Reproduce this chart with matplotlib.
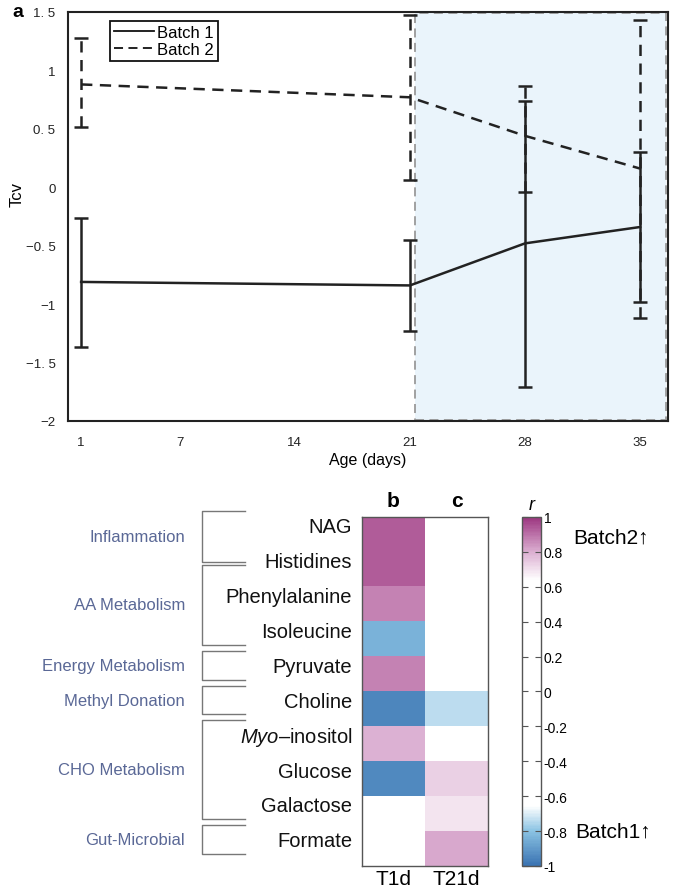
import numpy as np
import matplotlib
matplotlib.use('Agg')
import matplotlib.pyplot as plt
from matplotlib.colors import LinearSegmentedColormap
from matplotlib.lines import Line2D
from matplotlib.patches import Rectangle
from matplotlib.transforms import blended_transform_factory

plt.rcParams['font.family'] = ['Liberation Sans', 'DejaVu Sans']
plt.rcParams['mathtext.fontset'] = 'custom'
plt.rcParams['mathtext.rm'] = 'Liberation Sans'
plt.rcParams['mathtext.it'] = 'Liberation Sans:italic'

# panel a data
days = [1, 21, 28, 35]
b1_mean = [-0.81, -0.84, -0.48, -0.34]
b1_up = [-0.26, -0.45, 0.74, 0.30]
b1_low = [-1.37, -1.23, -1.71, -0.98]
b2_mean = [0.88, 0.77, 0.44, 0.16]
b2_up = [1.28, 1.47, 0.87, 1.43]
b2_low = [0.52, 0.06, -0.04, -1.12]
xticks = [1, 7, 14, 21, 28, 35]
yticks = [1.5, 1, 0.5, 0, -0.5, -1, -1.5, -2]
ytick_labels = ['1. 5', '1', '0. 5', '0', '\u22120. 5', '\u22121', '\u22121. 5', '\u22122']

# panels b, c data
metabolites = ['NAG', 'Histidines', 'Phenylalanine', 'Isoleucine', 'Pyruvate',
               'Choline', '$\\it{Myo}$\u2013inositol', 'Glucose', 'Galactose', 'Formate']
timepoints = ['T1d', 'T21d']
r_t1 = [0.93, 0.93, 0.87, -0.84, 0.87, -0.95, 0.79, -0.94, 0, 0]
r_t21 = [0, 0, 0, 0, 0, -0.74, 0, 0.73, 0.69, 0.81]
groups = ['Inflammation', 'AA Metabolism', 'Energy Metabolism', 'Methyl Donation',
          'CHO Metabolism', 'Gut-Microbial']
group_first = [0, 1, 4, 5, 6, 9]
group_last = [1, 3, 4, 5, 8, 9]

fig = plt.figure(figsize=(6.75, 8.95), dpi=100)

# ---- panel a
ax = fig.add_axes([0.1007, 0.5285, 0.889, 0.457])
ax.set_xlim(0.2, 36.7)
ax.set_ylim(-2, 1.5)
ax.add_patch(Rectangle((21.3, -1.99), 15.25, 3.48, facecolor='#eaf4fb',
                       edgecolor='#9a9a9a', linestyle=(0, (5, 3)), lw=1.3, zorder=0))

b1 = np.array(b1_mean)
b2 = np.array(b2_mean)
err1 = [b1 - np.array(b1_low), np.array(b1_up) - b1]
err2 = [b2 - np.array(b2_low), np.array(b2_up) - b2]
ax.errorbar(days, b1, yerr=err1, color='#222222', lw=1.8, elinewidth=1.8,
            capsize=5, capthick=1.8, zorder=3)
eb2 = ax.errorbar(days, b2, yerr=err2, color='#222222', lw=1.8, elinewidth=1.8,
                  capsize=5, capthick=1.8, zorder=3)
eb2[0].set_dashes((4.5, 3))
eb2[2][0].set_linestyle((0, (4.5, 3)))

ax.set_xticks(xticks)
ax.set_yticks(yticks)
ax.set_yticklabels(ytick_labels)
ax.tick_params(length=0, labelsize=9.5, colors='#222222', pad=9)
ax.tick_params(axis='x', pad=11)
for s in ax.spines.values():
    s.set_linewidth(1.5)
    s.set_color('#222222')
ax.set_ylabel('Tcv', fontsize=12)
ax.yaxis.set_label_coords(-0.072, 0.555)
ax.set_xlabel('Age (days)', fontsize=11.5, labelpad=3)

handles = [Line2D([], [], color='#111111', lw=1.3),
           Line2D([], [], color='#111111', lw=1.3, dashes=(5, 3))]
leg = ax.legend(handles, ['Batch 1', 'Batch 2'], loc='upper left',
                bbox_to_anchor=(0.07, 0.978), borderaxespad=0, fancybox=False,
                fontsize=12, handlelength=2.4, handletextpad=0.15,
                labelspacing=0.1, borderpad=0.25, framealpha=1)
leg.get_frame().set_edgecolor('#111111')
leg.get_frame().set_linewidth(1.3)
fig.text(0.018, 0.986, 'a', fontsize=14, fontweight='bold', va='center')

# ---- panels b, c
cmap = LinearSegmentedColormap.from_list('rb', [
    (0.0, '#3a73b2'), (0.1, '#8cc4e4'), (0.17, '#ffffff'),
    (0.82, '#ffffff'), (0.9, '#dcb0d2'), (1.0, '#9c3680')])
data = np.array([r_t1, r_t21]).T
hx = fig.add_axes([0.5363, 0.0313, 0.1867, 0.39])
im = hx.imshow(data, cmap=cmap, vmin=-1, vmax=1, aspect='auto')
hx.set_xticks(range(len(timepoints)))
hx.set_xticklabels(timepoints, fontsize=15)
hx.set_yticks([])
hx.tick_params(length=0, pad=2)
for s in hx.spines.values():
    s.set_color('#555555')
    s.set_linewidth(1.0)
hx.text(0, -0.7, 'b', fontsize=15, fontweight='bold', ha='center', va='bottom')
hx.text(1, -0.7, 'c', fontsize=15, fontweight='bold', ha='center', va='bottom')

tr = blended_transform_factory(fig.transFigure, hx.transData)
label_y = [i - 0.22 for i in range(len(metabolites))]
for name, y in zip(metabolites, label_y):
    fig.text(0.522, y, name, transform=tr, ha='right', va='center', fontsize=14.5,
             color='#111111')

xv, xh = 0.299, 0.363
for k, g in enumerate(groups):
    top = label_y[group_first[k]] - 0.45
    bot = label_y[group_last[k]] + 0.38
    if k > 0 and group_first[k] == group_last[k - 1]:
        top = label_y[group_first[k]] + 0.1
    if k < len(groups) - 1 and group_last[k] == group_first[k + 1]:
        bot = label_y[group_last[k]]
    fig.add_artist(Line2D([xh, xv, xv, xh], [top, top, bot, bot], transform=tr,
                          color='#777777', lw=1.0))
    fig.text(0.274, (top + bot) / 2, g, transform=tr, ha='right', va='center',
             fontsize=12, color='#5a6896')

cx = fig.add_axes([0.7733, 0.0313, 0.0281, 0.39])
cb = fig.colorbar(im, cax=cx, ticks=np.linspace(-1, 1, 11))
cb.ax.set_yticklabels(['-1', '-0.8', '-0.6', '-0.4', '-0.2', '0', '0.2', '0.4',
                       '0.6', '0.8', '1'])
cb.ax.tick_params(direction='in', left=True, right=True, length=4, width=0.8,
                  color='#555555', labelsize=10, pad=2)
cb.outline.set_edgecolor('#555555')
cb.outline.set_linewidth(1.0)
cx.text(0.5, 1.01, 'r', transform=cx.transAxes, style='italic', fontsize=13,
        ha='center', va='bottom')
fig.text(0.849, 1 - 538 / 895, 'Batch2\u2191', fontsize=15, va='center')
fig.text(0.852, 1 - 832 / 895, 'Batch1\u2191', fontsize=15, va='center')

fig.savefig('out.png', dpi=100)
